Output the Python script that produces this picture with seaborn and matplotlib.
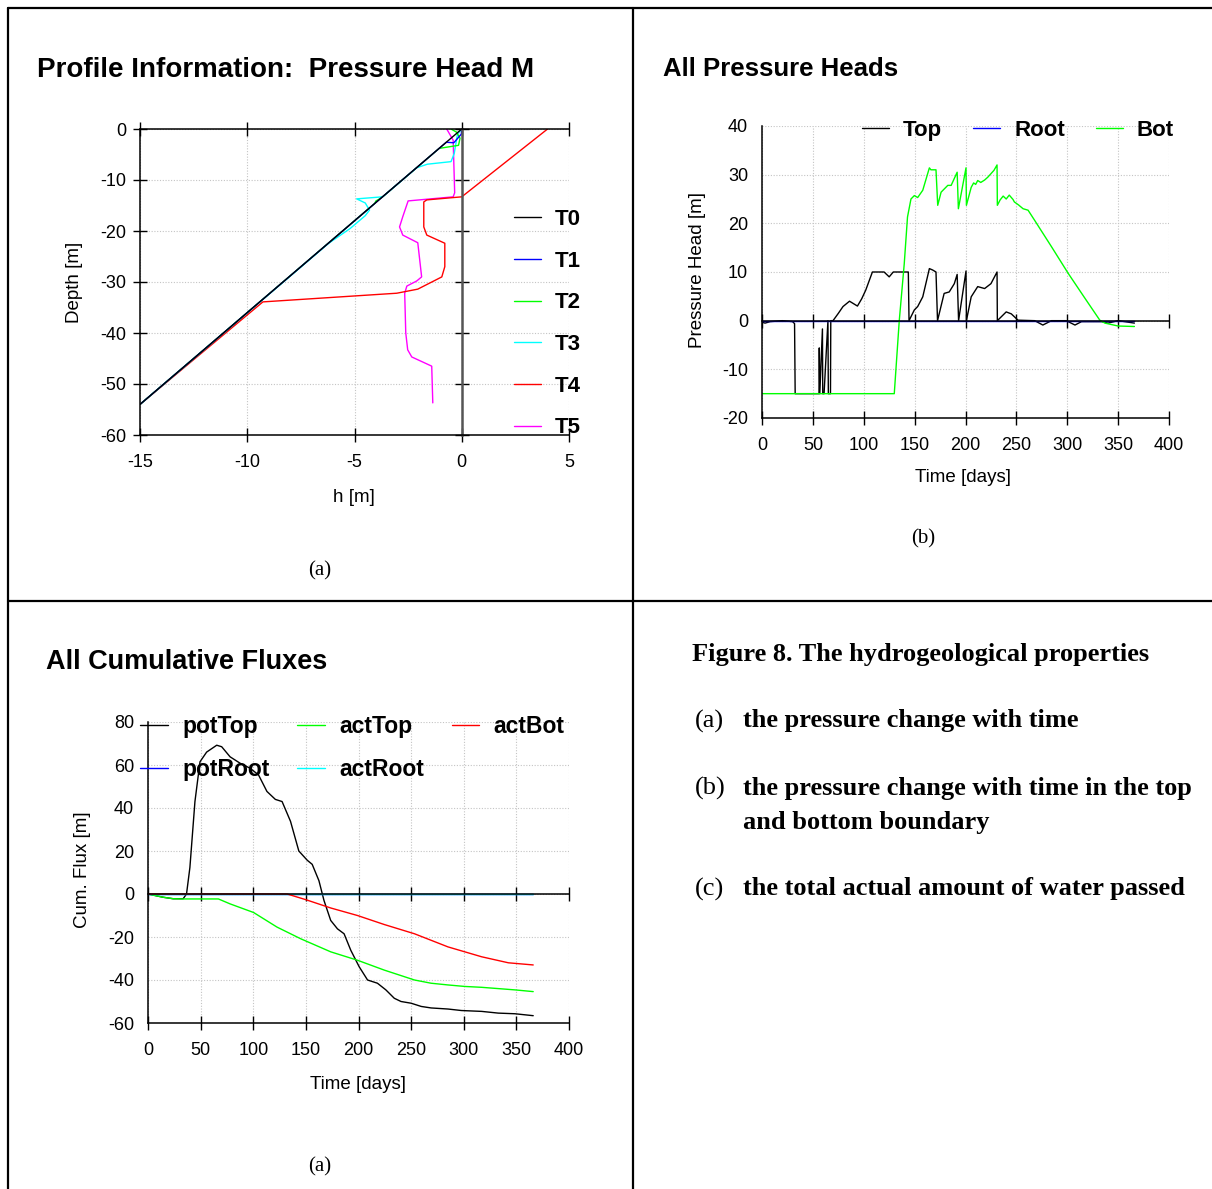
import matplotlib
matplotlib.use("Agg")
import matplotlib.pyplot as plt
from matplotlib.lines import Line2D
import seaborn as sns

# ---- panel (a): pressure head profiles, h [m] vs depth [m]
t0_h = [-15, 0]
t0_z = [-54, 0]
t1_h = [-15, -0.72, -0.37, -0.02, 0]
t1_z = [-54, -2.6, -2.7, -1.0, 0]
t2_h = [-15, -4.06, -4.0, -3.75, -3.69, -1.05, -0.15, -0.08, -0.25, -0.5]
t2_z = [-54, -14.6, -14.1, -13.5, -13.3, -3.8, -3.2, -1.8, -0.6, 0]
t3_h = [-15, -6.2, -5.2, -4.5, -4.3, -4.5, -4.9, -3.69, -2.1, -1.6, -0.5, -0.35, -0.2, 0]
t3_z = [-54, -22.4, -19.5, -17, -15.9, -14.5, -13.7, -13.3, -7.6, -6.9, -6.4, -4.8, -1.0, 0]
t4_h = [-15, -9.27, -3.03, -2.05, -0.93, -0.79, -0.79, -1.63, -1.77, -1.77, -1.63, 0, 4.0]
t4_z = [-54, -33.9, -32.2, -31.4, -29, -27, -22.4, -20.8, -19.2, -14.3, -13.9, -13.3, 0]
t5_h = [-0.7, -0.4, -0.33, -0.4, -2.5, -2.75, -2.9, -2.75, -2.05, -1.87, -2.1, -2.56, -2.66,
        -2.61, -2.52, -2.33, -1.4, -1.35]
t5_z = [0, -2.2, -12.5, -13.3, -14.1, -17.2, -19.2, -20.8, -22.3, -29, -29.8, -30.8, -32.2,
        -40, -43.3, -44.7, -46.5, -53.7]

# ---- panel (b): boundary pressure heads vs time
top_day = [0, 3, 8, 20, 30, 32, 32.6, 56, 56.3, 56.8,
           59.4, 59.7, 60.2, 61, 64.8, 65.2, 65.5, 67.3, 67.6, 69.8,
           75, 79.6, 86, 93.8, 98, 102, 108.5, 120, 125, 129,
           143.8, 144.5, 149.7, 153, 158, 164.5, 167.8, 171, 172.5, 179,
           184, 189, 191.8, 193.2, 200.5, 200.9, 205.6, 212, 218.8, 225,
           231, 231.3, 240, 245, 251.6, 268, 276, 284.5, 299, 307.6,
           314, 334, 340, 350, 366]
top_val = [-0.3, -0.5, -0.2, 0, -0.2, -0.6, -15, -15, -5.6, -15,
           -1.7, -15, -15, -15, 0, -15, -15, -15, 0, 0,
           1.5, 2.9, 4.0, 3.0, 4.5, 6.3, 10, 10, 9, 10,
           10, 0, 2.2, 2.9, 4.9, 10.7, 10.4, 10, 0, 5.6,
           5.9, 7.6, 9.5, 0, 10.2, 0, 4.9, 7, 6.6, 7.6,
           10, 0, 1.8, 1.4, 0.1, 0, -0.9, 0, 0, -0.9,
           -0.2, -0.2, -0.5, 0, -0.5]
root_day = [0, 366]
root_val = [0, 0]
bot_day = [0, 130, 134.9, 139.8, 143, 146.4, 149.7, 153, 158, 164.5,
           166, 171, 172.7, 176, 182.6, 185.9, 191.8, 193, 200.5, 200.9,
           205.6, 208, 210, 212, 215, 218.8, 222, 225, 228, 231,
           231.3, 234, 237, 240, 243, 246.7, 248, 252, 256.6, 261.5,
           268, 284.5, 301, 317.4, 332, 337, 350, 366]
bot_val = [-15, -15, 0, 11.7, 21.3, 25, 25.7, 25.3, 26.8, 31.4,
           31.0, 31, 23.7, 26.4, 27.8, 27.8, 30.5, 23, 31.4, 23.7,
           27.4, 28.3, 28.0, 28.8, 28.4, 28.9, 29.5, 30.2, 30.9, 32,
           23.7, 24.8, 25.6, 25.0, 25.8, 24.9, 24.4, 23.8, 23, 22.7,
           20.6, 15.2, 9.7, 4.6, 0.1, -0.5, -1.1, -1.2]

# ---- panel (c): cumulative fluxes vs time
pot_top_day = [0, 14.3, 23.9, 33.4, 36.6, 39.8, 44.6, 49.4, 55.7, 65.3,
               70, 78, 87.6, 97, 105, 113, 121, 127.4, 135.4, 143.3,
               151.3, 156, 162.4, 167.2, 173.6, 180, 186.3, 192.7, 200.6, 208.6,
               218, 226, 234, 240.4, 250, 259.6, 269, 285, 297.8, 317,
               332.8, 348.7, 366]
pot_top_val = [0, -1.5, -2.2, -2.2, 0, 12.3, 43, 61.5, 66, 69.2,
               68.5, 63.8, 60.8, 58.5, 55.4, 47.7, 44, 43, 33.8, 20,
               15.7, 13.8, 6.2, -3, -12.3, -16.2, -18.5, -26.2, -33.8, -40,
               -41.5, -44.6, -48.5, -50, -50.8, -52.3, -53, -53.5, -54.2, -54.6,
               -55.4, -55.7, -56.6]
act_top_day = [0, 14.3, 23.9, 33.4, 66.9, 78, 100.3, 122.6, 145, 173.6,
               199, 224.5, 253.2, 269, 285, 301, 317, 332.8, 348.7, 366]
act_top_val = [0, -1.5, -2.2, -2.3, -2.3, -4.6, -8.6, -15.4, -20.8, -26.9,
               -30.8, -35.4, -40, -41.5, -42.3, -43, -43.4, -44, -44.6, -45.4]
act_bot_day = [0, 132.2, 149.7, 173.6, 199, 224.5, 253.2, 285, 317, 342.4, 366]
act_bot_val = [0, 0, -2.6, -6.5, -10, -14.2, -18.5, -24.6, -29.2, -32, -33]
root_flux_day = [0, 366]
root_flux_val = [0, 0]

sns.set_theme(style="white")
plt.rcParams['font.family'] = ['Liberation Sans', 'DejaVu Sans']
plt.rcParams['axes.unicode_minus'] = False
for k in ['text.color', 'axes.labelcolor', 'xtick.color', 'ytick.color', 'axes.edgecolor']:
    plt.rcParams[k] = 'black'

W, H = 1212, 1189


def fx(x):
    return x / W


def fy(y):
    return 1 - y / H


fig = plt.figure(figsize=(W / 100, H / 100), dpi=100)

# table grid around the panels
for x0, y0, x1, y1 in [(8, 8, 1212, 8), (8, 8, 8, 1189), (633, 8, 633, 1189), (8, 601, 1212, 601)]:
    fig.add_artist(Line2D([fx(x0), fx(x1)], [fy(y0), fy(y1)], color='black', lw=1.6,
                          transform=fig.transFigure))


def style(ax):
    ax.grid(True, color='#c4c4c4', linestyle=(0, (1, 1.5)), linewidth=0.8)
    ax.tick_params(direction='inout', length=10, width=1.0, labelsize=13, colors='black')
    ax.tick_params(axis='x', pad=9)
    ax.tick_params(axis='y', pad=5)
    for s in ax.spines.values():
        s.set_color('black')
        s.set_linewidth(1.1)


lw = 1.0
leg_font = {'family': 'Liberation Sans', 'weight': 'bold', 'size': 16}

# ---------------- panel (a)
ax = fig.add_axes([fx(140), fy(435), 429 / W, 306 / H])
profiles = [(t0_h, t0_z, 'black', 'T0'), (t1_h, t1_z, 'blue', 'T1'), (t2_h, t2_z, '#00ff00', 'T2'),
            (t3_h, t3_z, 'cyan', 'T3'), (t4_h, t4_z, 'red', 'T4'), (t5_h, t5_z, 'magenta', 'T5')]
for h, z, c, name in profiles[::-1]:
    sns.lineplot(x=h, y=z, color=c, lw=lw, sort=False, estimator=None, ax=ax, label=name)
ax.set_xlim(-15, 5)
ax.set_ylim(-60, 0)
ax.set_xticks([-15, -10, -5, 0, 5])
ax.set_yticks([0, -10, -20, -30, -40, -50, -60])
style(ax)
ax.spines['right'].set_position(('data', 0))
ax.spines['right'].set_color('#555555')
ax.spines['right'].set_linewidth(1.8)
ax.xaxis.set_ticks_position('both')
ax.yaxis.set_ticks_position('both')
ax.tick_params(labeltop=False, labelright=False)
ax.set_xlabel('h [m]', fontsize=13.5)
ax.set_ylabel('Depth [m]', fontsize=13.5)
ax.xaxis.set_label_coords(0.499, -0.175)
ax.yaxis.set_label_coords(-0.133, 0.5)
hd, lb = ax.get_legend_handles_labels()
ax.legend(hd[::-1], lb[::-1], loc='upper left', bbox_to_anchor=(fx(514), fy(209)),
          bbox_transform=fig.transFigure, frameon=False, prop=leg_font, handlelength=1.21,
          handletextpad=0.63, labelspacing=0.93, borderpad=0, borderaxespad=0)
fig.text(fx(37), fy(70), 'Profile Information:  Pressure Head M', fontsize=20,
         fontweight='bold', va='center', ha='left')
fig.text(fx(320), fy(571), '(a)', fontsize=15, family='Liberation Serif', ha='center', va='center')

# ---------------- panel (b)
ax = fig.add_axes([fx(762), fy(418), 407 / W, 292 / H])
for d, v, c, name in [(top_day, top_val, 'black', 'Top'), (root_day, root_val, 'blue', 'Root'),
                      (bot_day, bot_val, '#00ff00', 'Bot')]:
    sns.lineplot(x=d, y=v, color=c, lw=lw, sort=False, estimator=None, ax=ax, label=name)
ax.set_xlim(0, 400)
ax.set_ylim(-20, 40)
ax.set_xticks(range(0, 401, 50))
ax.set_yticks(range(-20, 41, 10))
style(ax)
ax.spines['top'].set_position(('data', 0))
ax.spines['right'].set_visible(False)
ax.xaxis.set_ticks_position('both')
ax.tick_params(labeltop=False)
ax.set_xlabel('Time [days]', fontsize=13.5)
ax.set_ylabel('Pressure Head [m]', fontsize=13.5)
ax.xaxis.set_label_coords(0.494, -0.173)
ax.yaxis.set_label_coords(-0.1376, 0.507)
ax.legend(loc='upper left', bbox_to_anchor=(fx(862), fy(120)), bbox_transform=fig.transFigure,
          ncol=3, frameon=False, prop=leg_font, handlelength=1.21, handletextpad=0.63,
          columnspacing=1.4, borderpad=0, borderaxespad=0)
fig.text(fx(663), fy(69), 'All Pressure Heads', fontsize=18.5, fontweight='bold', va='center', ha='left')
fig.text(fx(923), fy(539), '(b)', fontsize=15, family='Liberation Serif', ha='center', va='center')

# ---------------- panel (c)
ax = fig.add_axes([fx(148), fy(1023), 421 / W, 301 / H])
for d, v, c, name in [(pot_top_day, pot_top_val, 'black', 'potTop'),
                      (root_flux_day, root_flux_val, 'blue', 'potRoot'),
                      (act_top_day, act_top_val, '#00ff00', 'actTop'),
                      (root_flux_day, root_flux_val, 'cyan', 'actRoot'),
                      (act_bot_day, act_bot_val, 'red', 'actBot')]:
    sns.lineplot(x=d, y=v, color=c, lw=lw, sort=False, estimator=None, ax=ax, label=name)
ax.set_xlim(0, 400)
ax.set_ylim(-60, 80)
ax.set_xticks(range(0, 401, 50))
ax.set_yticks(range(-60, 81, 20))
style(ax)
ax.spines['top'].set_position(('data', 0))
ax.spines['right'].set_visible(False)
ax.xaxis.set_ticks_position('both')
ax.tick_params(labeltop=False)
ax.set_xlabel('Time [days]', fontsize=13.5)
ax.set_ylabel('Cum. Flux [m]', fontsize=13.5)
ax.xaxis.set_label_coords(0.499, -0.175)
ax.yaxis.set_label_coords(-0.135, 0.508)
ax.legend(loc='upper left', bbox_to_anchor=(fx(140), fy(715)), bbox_transform=fig.transFigure,
          ncol=3, frameon=False, prop=dict(leg_font, size=16.5), handlelength=1.21,
          handletextpad=0.63, columnspacing=1.2, labelspacing=0.87, borderpad=0, borderaxespad=0)
fig.text(fx(46), fy(662), 'All Cumulative Fluxes', fontsize=19.5, fontweight='bold', va='center', ha='left')
fig.text(fx(320), fy(1167), '(a)', fontsize=15, family='Liberation Serif', ha='center', va='center')

# ---------------- caption cell
serif = 'Liberation Serif'
fig.text(fx(692), fy(654), 'Figure 8. The hydrogeological properties', fontsize=19,
         family=serif, fontweight='bold', va='center', ha='left')
items = [(721, '(a)', 'the pressure change with time'),
         (788, '(b)', 'the pressure change with time in the top'),
         (822, '', 'and bottom boundary'),
         (889, '(c)', 'the total actual amount of water passed')]
for y, tag, txt in items:
    if tag:
        fig.text(fx(695), fy(y), tag, fontsize=19, family=serif, va='center', ha='left')
    fig.text(fx(743), fy(y), txt, fontsize=19, family=serif, fontweight='bold', va='center', ha='left')

fig.savefig('out.png', dpi=100)
